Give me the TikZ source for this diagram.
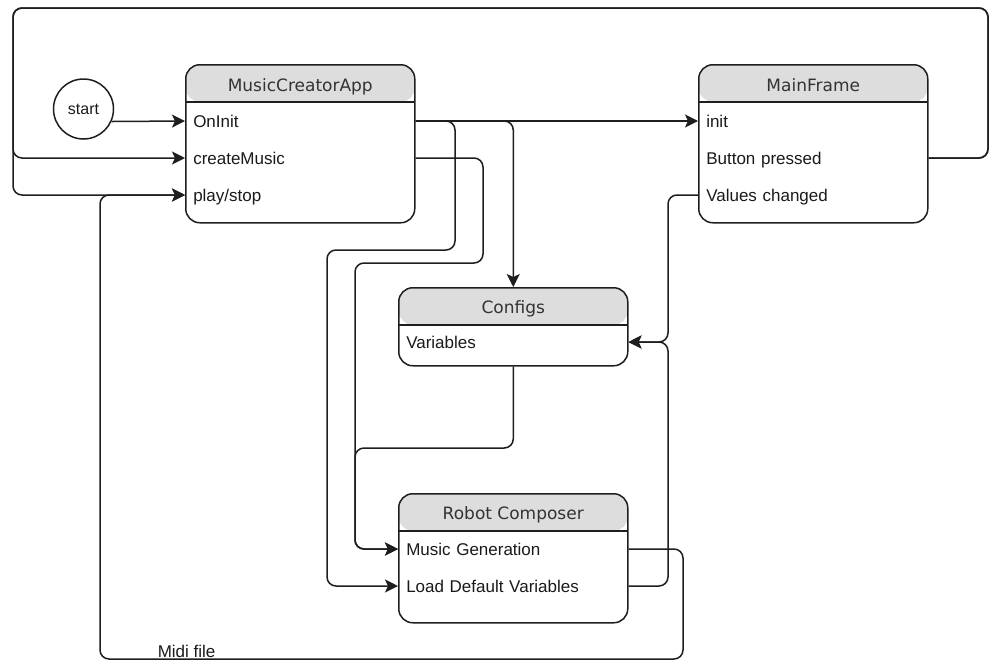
\documentclass[tikz,border=0pt]{standalone}
\usepackage{fontspec}
\setmainfont{Liberation Sans}
\newfontfamily\hdrfont{DejaVu Sans}
\usetikzlibrary{arrows.meta}
\definecolor{hdrgray}{HTML}{DDDDDD}
\definecolor{lineblack}{HTML}{1E1E1E}
\definecolor{txtcol}{HTML}{1A1A1A}
\definecolor{hdrtxt}{HTML}{333333}
\begin{document}
\begin{tikzpicture}[x=1pt,y=-1pt,line width=1.5pt,
  conn/.style={draw=lineblack, line width=1.5pt, rounded corners=9pt},
  arr/.style={conn, -{Stealth[length=13pt,width=13pt,inset=3pt]}},
  umlbox/.style={draw=lineblack, line width=1.5pt, rounded corners=14pt,
    minimum width=229pt, inner sep=0pt, anchor=north west, fill=white,
    path picture={
      \fill[hdrgray] (path picture bounding box.north west) rectangle ([yshift=-37pt]path picture bounding box.north east);
      \draw[lineblack, line width=1.5pt] ([yshift=-37pt]path picture bounding box.north west) -- ([yshift=-37pt]path picture bounding box.north east);}},
  hdrtext/.style={font=\hdrfont\fontsize{17}{20}\selectfont, text=hdrtxt, inner sep=0pt,
    text height=15pt, text depth=3pt},
  rowtext/.style={anchor=west, inner xsep=7.5pt, inner ysep=0pt, text width=214pt, align=left,
    font=\fontsize{17}{20}\selectfont, text=txtcol, text height=15pt, text depth=3pt},
  lbl/.style={font=\fontsize{17}{20}\selectfont, text=txtcol, inner sep=0pt,
    text height=15pt, text depth=3pt}
]
\useasboundingbox (0,0) rectangle (990,662);

% start
\node[draw=lineblack, circle, minimum size=60pt, inner sep=0pt, font=\fontsize{16}{18}\selectfont, text=txtcol] (start) at (83.5,109) {start};

% MusicCreatorApp
\node[umlbox, minimum height=158pt] (mca) at (185,64) {};
\node[hdrtext] (mcat) at ([yshift=-21pt]mca.north) {MusicCreatorApp};
\node[rowtext] (oninit) at (185,121) {OnInit};
\node[rowtext] (cremus) at (185,158) {createMusic};
\node[rowtext] (playst) at (185,195) {play/stop};

% MainFrame
\node[umlbox, minimum height=158pt] (mf) at (698,64) {};
\node[hdrtext] (mft) at ([yshift=-21pt]mf.north) {MainFrame};
\node[rowtext] (init) at (698,121) {init};
\node[rowtext] (btnp) at (698,158) {Button pressed};
\node[rowtext] (valch) at (698,195) {Values changed};

% Configs
\node[umlbox, minimum height=78pt] (configs) at (398,287) {};
\node[hdrtext] (cfgt) at ([yshift=-20pt]configs.north) {Configs};
\node[rowtext] (vars) at (398,342) {Variables};

% Robot Composer
\node[umlbox, minimum height=129pt] (robot) at (398,493) {};
\node[hdrtext] (robt) at ([yshift=-20.5pt]robot.north) {Robot Composer};
\node[rowtext] (musgen) at (398,549) {Music Generation};
\node[rowtext] (lodv) at (398,586) {Load Default Variables};

% label
\node[lbl, anchor=west] (midi) at (157,651) {Midi file};

% connectors
\draw[arr] (start.-24) -- (oninit.west);
\draw[arr] (oninit.east) -- (init.west);
\draw[arr] (oninit.east) -| (configs.north);
\draw[arr] (oninit.east) -- (455,121) -- (455,250) -- (327,250) |- (lodv.west);
\draw[arr] (cremus.east) -- (483,158) -- (483,263) -- (355,263) |- (musgen.west);
\draw[arr] (configs.south) |- (355,448) |- (musgen.west);
\draw[arr] (valch.west) -- (668,195) |- (vars.east);
\draw[arr] (lodv.east) -- (668,586) |- (vars.east);
\draw[arr] (musgen.east) -- (683,549) -- (683,659) -- (100,659) |- (playst.west);
\draw[arr] (btnp.east) -- (988,158) -- (988,8) -- (13,8) |- (cremus.west);
\draw[arr] (btnp.east) -- (988,158) -- (988,8) -- (13,8) |- (playst.west);
\end{tikzpicture}
\end{document}
